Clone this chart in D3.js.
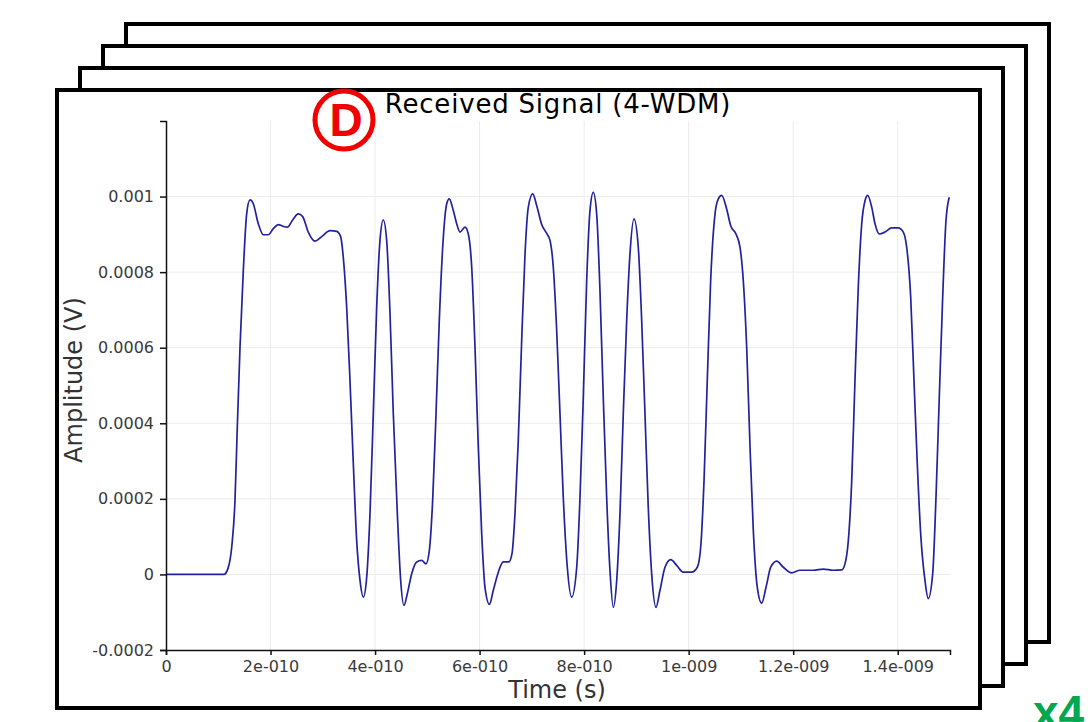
<!DOCTYPE html>
<html lang="en">
<head>
    <meta charset="UTF-8">
    <title>Received Signal (4-WDM)</title>
    <script src="https://cdn.jsdelivr.net/npm/d3@7"></script>
    <style>
        body { margin: 0; background: #fff; }
        svg { display: block; }
    </style>
</head>
<body>
<script type="application/javascript">

    const W = 1092, H = 722;

    // waveform, time in ps, amplitude in microvolts
    const timePs = [
        0, 111, 118.6, 125.7, 132, 136.4, 141.6, 147.9, 154.4, 160.7,
        167, 176.6, 186.2, 195.7, 205.3, 214.9, 224.4, 232.1, 242.4, 253.1,
        261.5, 272.2, 285.1, 297.9, 313.8, 326.6, 334.2, 339.2, 345.7, 352,
        358.4, 364.8, 371.2, 377.5, 384, 390.3, 396.6, 403.1, 409.4, 415.7,
        422.2, 428.6, 434.9, 442.6, 449, 455.3, 461.7, 470.1, 479.6, 489.2,
        497.4, 503.8, 510.2, 516.6, 522.9, 529.4, 537.1, 542, 549.7, 556.2,
        562.5, 572.1, 578.4, 584.9, 591.2, 597.5, 604, 610.3, 618.9, 626.2,
        635.8, 645.3, 655.8, 662, 667.7, 674, 680.5, 686.9, 693.2, 701.6,
        709.3, 718.8, 729, 734.7, 741, 747.5, 753.8, 760.1, 767.8, 776.2,
        785.8, 792.1, 798.4, 804.9, 811.2, 817.5, 824, 830.3, 836.6, 843.1,
        849.4, 855.8, 862.3, 868.6, 874.9, 881.4, 887.7, 895.4, 903.6, 910.1,
        916.4, 922.7, 929.2, 937.5, 945.1, 954.7, 965.6, 977.1, 989.7, 1005.8,
        1016.5, 1023, 1029.4, 1035.6, 1042.1, 1050.4, 1056.7, 1063.2, 1072.7, 1080.4,
        1090.5, 1098.2, 1104.5, 1111, 1117.4, 1123.7, 1131.3, 1139.7, 1148, 1157,
        1168.4, 1181.1, 1197.1, 1213, 1238.5, 1257.6, 1276.7, 1292.8, 1299.1, 1305.5,
        1312, 1318.2, 1324.5, 1331.1, 1337.4, 1342.5, 1350.2, 1356.5, 1364.7, 1375.6,
        1388.4, 1401, 1410.6, 1417.1, 1424.8, 1431.1, 1437.4, 1443.9, 1452.1, 1458.4,
        1466.9, 1473.2, 1479.5, 1486, 1492.3, 1498.6
    ];
    const amplitudeUV = [
        0, 0, 16, 72, 196, 390, 601, 804, 955, 991,
        981, 928, 899, 899, 915, 926, 921, 919, 938, 954,
        947, 906, 882, 894, 910, 908, 894, 839, 707, 513,
        293, 90, -16, -60, -7, 161, 425, 707, 884, 938,
        884, 690, 425, 161, -16, -82, -51, 2, 33, 37,
        28, 63, 196, 425, 672, 866, 981, 994, 963, 928,
        906, 919, 901, 813, 601, 337, 108, -34, -79, -42,
        6, 33, 33, 55, 161, 354, 619, 848, 972, 1007,
        976, 926, 901, 884, 813, 645, 425, 204, 19, -60,
        19, 204, 469, 778, 963, 1011, 954, 751, 469, 204,
        11, -87, -16, 161, 425, 672, 848, 941, 866, 672,
        425, 178, 2, -87, -42, 19, 39, 24, 6, 6,
        19, 72, 249, 513, 778, 954, 994, 1003, 967, 923,
        901, 866, 778, 601, 337, 116, -34, -76, -34, 19,
        35, 19, 4, 11, 11, 14, 11, 12, 28, 90,
        249, 513, 760, 928, 989, 1003, 972, 928, 901, 906,
        917, 917, 906, 866, 734, 513, 293, 108, -16, -64,
        2, 204, 469, 734, 936, 998
    ];

    const xTicks = [0, 2e-10, 4e-10, 6e-10, 8e-10, 1e-9, 1.2e-9, 1.4e-9];
    const xTickLabels = ['0', '2e-010', '4e-010', '6e-010', '8e-010', '1e-009', '1.2e-009', '1.4e-009'];
    const yTicks = [-0.0002, 0, 0.0002, 0.0004, 0.0006, 0.0008, 0.001];
    const yTickLabels = ['-0.0002', '0', '0.0002', '0.0004', '0.0006', '0.0008', '0.001'];

    const points = timePs.map((t, i) => ({ t: t * 1e-12, v: amplitudeUV[i] * 1e-6 }));

    let svg = d3.select('body')
        .append('svg')
        .attr('width', W)
        .attr('height', H);

    // stacked "slides" behind the front one, drawn back to front
    const front = { x: 57, y: 90, w: 923, h: 618 };
    const step = { dx: 23, dy: -22 };
    d3.range(3, -1, -1).forEach(k => {
        svg.append('rect')
            .attr('x', front.x + k * step.dx)
            .attr('y', front.y + k * step.dy)
            .attr('width', front.w)
            .attr('height', front.h)
            .attr('fill', '#fff')
            .attr('stroke', '#000')
            .attr('stroke-width', 4);
    });

    // plot area
    const pLeft = 166, pRight = 950, pTop = 121, pBottom = 650;

    let x = d3.scaleLinear().domain([0, 1.5e-9]).range([pLeft, pRight]);
    let y = d3.scaleLinear().domain([-0.0002, 0.0012]).range([pBottom, pTop]);

    const font = '"DejaVu Sans", sans-serif';

    // grid
    let grid = svg.append('g').attr('stroke', '#ececec').attr('stroke-width', 1);
    grid.selectAll('line.gx')
        .data(xTicks.slice(1))
        .enter()
        .append('line')
        .attr('x1', d => x(d)).attr('x2', d => x(d))
        .attr('y1', pTop).attr('y2', pBottom);
    grid.selectAll('line.gy')
        .data(yTicks.slice(1))
        .enter()
        .append('line')
        .attr('x1', pLeft).attr('x2', pRight)
        .attr('y1', d => y(d)).attr('y2', d => y(d));

    // signal
    let line = d3.line()
        .x(d => x(d.t))
        .y(d => y(d.v))
        .curve(d3.curveMonotoneX);

    svg.append('path')
        .datum(points)
        .attr('fill', 'none')
        .attr('stroke', '#22229e')
        .attr('stroke-width', 1.7)
        .attr('d', line);

    // axes
    let xAxis = d3.axisBottom(x)
        .tickValues(xTicks)
        .tickFormat((d, i) => xTickLabels[i])
        .tickSizeOuter(0)
        .tickSize(5);
    let yAxis = d3.axisLeft(y)
        .tickValues(yTicks)
        .tickFormat((d, i) => yTickLabels[i])
        .tickSizeOuter(0)
        .tickSize(6);

    let gx = svg.append('g')
        .attr('transform', 'translate(0,' + pBottom + ')')
        .call(xAxis);
    let gy = svg.append('g')
        .attr('transform', 'translate(' + pLeft + ',0)')
        .call(yAxis);

    [gx, gy].forEach(g => {
        g.select('.domain').attr('stroke', '#111').attr('stroke-width', 1.5);
        g.selectAll('.tick line').attr('stroke', '#111').attr('stroke-width', 1.5);
        g.selectAll('.tick text')
            .attr('font-family', font)
            .attr('font-size', 16)
            .attr('fill', '#3a3a3a');
    });
    gx.selectAll('.tick text').attr('dy', '0.9em');
    gy.selectAll('.tick text').attr('x', -12);

    // titles
    svg.append('text')
        .attr('x', 558)
        .attr('y', 113)
        .attr('text-anchor', 'middle')
        .attr('font-family', font)
        .attr('font-size', 26)
        .attr('letter-spacing', 0.8)
        .attr('fill', '#000')
        .text('Received Signal (4-WDM)');

    svg.append('text')
        .attr('x', 557)
        .attr('y', 698)
        .attr('text-anchor', 'middle')
        .attr('font-family', font)
        .attr('font-size', 24)
        .attr('fill', '#333')
        .text('Time (s)');

    svg.append('text')
        .attr('transform', 'translate(82,380) rotate(-90)')
        .attr('text-anchor', 'middle')
        .attr('font-family', font)
        .attr('font-size', 24)
        .attr('fill', '#333')
        .text('Amplitude (V)');

    // red circled marker
    svg.append('circle')
        .attr('cx', 344)
        .attr('cy', 120)
        .attr('r', 29)
        .attr('fill', '#fff')
        .attr('stroke', '#f00000')
        .attr('stroke-width', 5);
    svg.append('text')
        .attr('x', 346)
        .attr('y', 136)
        .attr('text-anchor', 'middle')
        .attr('font-family', '"Liberation Sans", Arial, sans-serif')
        .attr('font-weight', 'bold')
        .attr('font-size', 46)
        .attr('fill', '#f00000')
        .text('D');

    // stack count, cut off by the page edge as in the source slide
    svg.append('text')
        .attr('x', 1033)
        .attr('y', 728)
        .attr('font-family', '"Liberation Sans", Arial, sans-serif')
        .attr('font-weight', 'bold')
        .attr('font-size', 46)
        .attr('fill', '#00a84f')
        .text('x4');

</script>
</body>
</html>
